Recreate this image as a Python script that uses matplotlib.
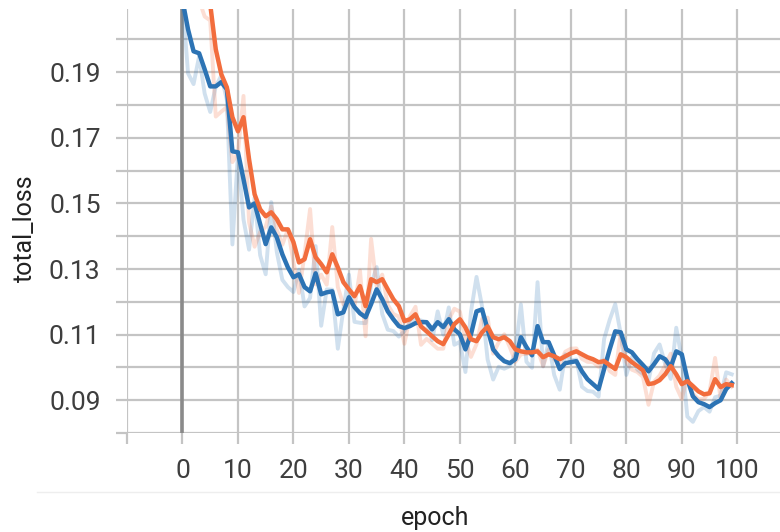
import numpy as np
import matplotlib.pyplot as plt
from matplotlib.lines import Line2D

plt.rcParams['font.family'] = ['Roboto', 'DejaVu Sans']

epoch = np.arange(100)

# run 1 (blue), smoothed and raw
blue_smooth = [0.212, 0.2031, 0.1964, 0.1958, 0.1909, 0.1857, 0.1857, 0.187, 0.1848, 0.1659,
               0.1656, 0.1574, 0.1488, 0.15, 0.1437, 0.1376, 0.1427, 0.1397, 0.1345, 0.1305,
               0.1275, 0.1284, 0.1245, 0.1232, 0.1287, 0.1223, 0.1229, 0.1232, 0.1162, 0.1168,
               0.1214, 0.1184, 0.1165, 0.1153, 0.1193, 0.1238, 0.1208, 0.1171, 0.1147, 0.1126,
               0.112, 0.1126, 0.1135, 0.1138, 0.1138, 0.1116, 0.1138, 0.1123, 0.1147, 0.1116,
               0.1101, 0.1055, 0.1101, 0.1171, 0.1177, 0.1116, 0.1055, 0.1034, 0.1019, 0.1013,
               0.1025, 0.1092, 0.1062, 0.1037, 0.1126, 0.1077, 0.1077, 0.1037, 0.0995, 0.1013,
               0.1016, 0.1019, 0.0988, 0.0964, 0.0949, 0.0934, 0.0995, 0.1055, 0.111, 0.1107,
               0.1055, 0.1046, 0.1025, 0.1007, 0.0988, 0.101, 0.1034, 0.1025, 0.1001, 0.1049,
               0.104, 0.0964, 0.0912, 0.0894, 0.0888, 0.0879, 0.0891, 0.09, 0.0934, 0.0952]
blue_raw = [0.212, 0.1897, 0.1864, 0.1949, 0.1835, 0.1779, 0.1857, 0.189, 0.1815, 0.1375,
            0.1651, 0.1451, 0.1359, 0.1518, 0.1342, 0.1284, 0.1504, 0.1352, 0.1267, 0.1245,
            0.123, 0.1298, 0.1186, 0.1212, 0.137, 0.1127, 0.1238, 0.1237, 0.1057, 0.1177,
            0.1283, 0.1139, 0.1136, 0.1135, 0.1253, 0.1306, 0.1163, 0.1115, 0.1111, 0.1094,
            0.1111, 0.1135, 0.1149, 0.1143, 0.1138, 0.1083, 0.1171, 0.11, 0.1183, 0.1069,
            0.1078, 0.0986, 0.117, 0.1276, 0.1186, 0.1024, 0.0963, 0.1002, 0.0996, 0.1004,
            0.1043, 0.1192, 0.1017, 0.0999, 0.126, 0.1003, 0.1077, 0.0977, 0.0932, 0.104,
            0.1021, 0.1024, 0.0941, 0.0928, 0.0926, 0.0911, 0.1087, 0.1145, 0.1193, 0.1102,
            0.0977, 0.1032, 0.0993, 0.098, 0.0959, 0.1043, 0.107, 0.1011, 0.0965, 0.1121,
            0.1026, 0.085, 0.0834, 0.0867, 0.0879, 0.0865, 0.0909, 0.0914, 0.0985, 0.0979]

# run 2 (orange), smoothed and raw
orange_smooth = [0.26, 0.248, 0.236, 0.224, 0.215, 0.2107, 0.197, 0.1894, 0.1854, 0.1763,
                 0.172, 0.1763, 0.1635, 0.1528, 0.1482, 0.1461, 0.1473, 0.1452, 0.1421, 0.1421,
                 0.1382, 0.132, 0.133, 0.1391, 0.1336, 0.1315, 0.129, 0.1345, 0.1305, 0.126,
                 0.1238, 0.1217, 0.1248, 0.1187, 0.1269, 0.126, 0.1269, 0.1238, 0.1208, 0.1187,
                 0.1141, 0.1147, 0.1162, 0.1125, 0.111, 0.1095, 0.108, 0.1071, 0.1101, 0.1132,
                 0.1147, 0.1122, 0.1086, 0.108, 0.1107, 0.1125, 0.1092, 0.1086, 0.1092, 0.108,
                 0.1055, 0.1049, 0.1046, 0.1046, 0.1049, 0.1031, 0.104, 0.1034, 0.1025, 0.1034,
                 0.1043, 0.1049, 0.104, 0.1031, 0.1025, 0.1016, 0.1019, 0.1007, 0.0995, 0.104,
                 0.1031, 0.1016, 0.1004, 0.0991, 0.0949, 0.0952, 0.0961, 0.0979, 0.1004, 0.0979,
                 0.0949, 0.0958, 0.0943, 0.0927, 0.0918, 0.0921, 0.0964, 0.094, 0.0949, 0.0946]
orange_raw = [0.26, 0.235, 0.222, 0.212, 0.207, 0.2058, 0.1765, 0.178, 0.1794, 0.1626,
              0.1655, 0.1828, 0.1443, 0.1368, 0.1413, 0.1429, 0.1491, 0.142, 0.1374, 0.1421,
              0.1323, 0.1227, 0.1345, 0.1483, 0.1253, 0.1283, 0.1252, 0.1428, 0.1245, 0.1192,
              0.1205, 0.1185, 0.1295, 0.1095, 0.1392, 0.1246, 0.1283, 0.1191, 0.1163, 0.1155,
              0.1072, 0.1156, 0.1185, 0.1069, 0.1087, 0.1072, 0.1057, 0.1057, 0.1146, 0.1179,
              0.117, 0.1084, 0.1032, 0.1071, 0.1148, 0.1152, 0.1042, 0.1077, 0.1101, 0.1062,
              0.1017, 0.104, 0.1041, 0.1046, 0.1054, 0.1004, 0.1054, 0.1025, 0.1011, 0.1048,
              0.1057, 0.1058, 0.1026, 0.1017, 0.1016, 0.1002, 0.1024, 0.0989, 0.0977, 0.1108,
              0.1017, 0.0993, 0.0986, 0.0971, 0.0886, 0.0957, 0.0975, 0.1006, 0.1042, 0.0941,
              0.0904, 0.0972, 0.092, 0.0903, 0.0904, 0.0926, 0.1029, 0.0904, 0.0963, 0.0941]

x_ticks = np.arange(-10, 101, 10)
x_labels = [''] + [str(t) for t in range(0, 101, 10)]
y_ticks = np.round(np.arange(0.08, 0.205, 0.01), 2)
y_labels = ['%.2f' % t if round(t * 100) % 2 == 1 else '' for t in y_ticks]

blue = '#2c73b4'
orange = '#f26d3d'
grid_c = '#c4c4c4'

fig = plt.figure(figsize=(7.8, 5.32), dpi=100)
ax = fig.add_axes([127 / 780, 99 / 532, 653 / 780, 424 / 532])
ax.set_axisbelow(True)

ax.axvline(0, ymax=1, color='#8a8a8a', lw=2.6, zorder=1.8)
ax.plot(epoch, blue_raw, color=blue, alpha=0.22, lw=2.8, zorder=2)
ax.plot(epoch, orange_raw, color=orange, alpha=0.22, lw=2.8, zorder=2)
ax.plot(epoch, blue_smooth, color=blue, lw=3.2, zorder=3)
ax.plot(epoch, orange_smooth, color=orange, lw=3.2, zorder=4)

ax.set_xlim(-10, 107.7)
ax.set_ylim(0.08, 0.2093)
ax.set_xticks(x_ticks)
ax.set_xticklabels(x_labels)
ax.set_yticks(y_ticks)
ax.set_yticklabels(y_labels)
ax.grid(True, color=grid_c, lw=1.6)
ax.tick_params(length=8, width=1.6, color=grid_c, labelsize=19, labelcolor='#3e3e3e', pad=11)
for s in ax.spines.values():
    s.set_visible(False)

fig.text(25 / 780, 1 - 228 / 532, 'total_loss', rotation=90, fontsize=18,
         color='#222222', ha='center', va='center')
fig.text(435 / 780, 1 - 518 / 532, 'epoch', fontsize=18, color='#222222',
         ha='center', va='center')
fig.add_artist(Line2D([37 / 780, 1], [1 - 492 / 532, 1 - 492 / 532], color='#eeeeee', lw=1))

fig.savefig('out.png', dpi=100)
